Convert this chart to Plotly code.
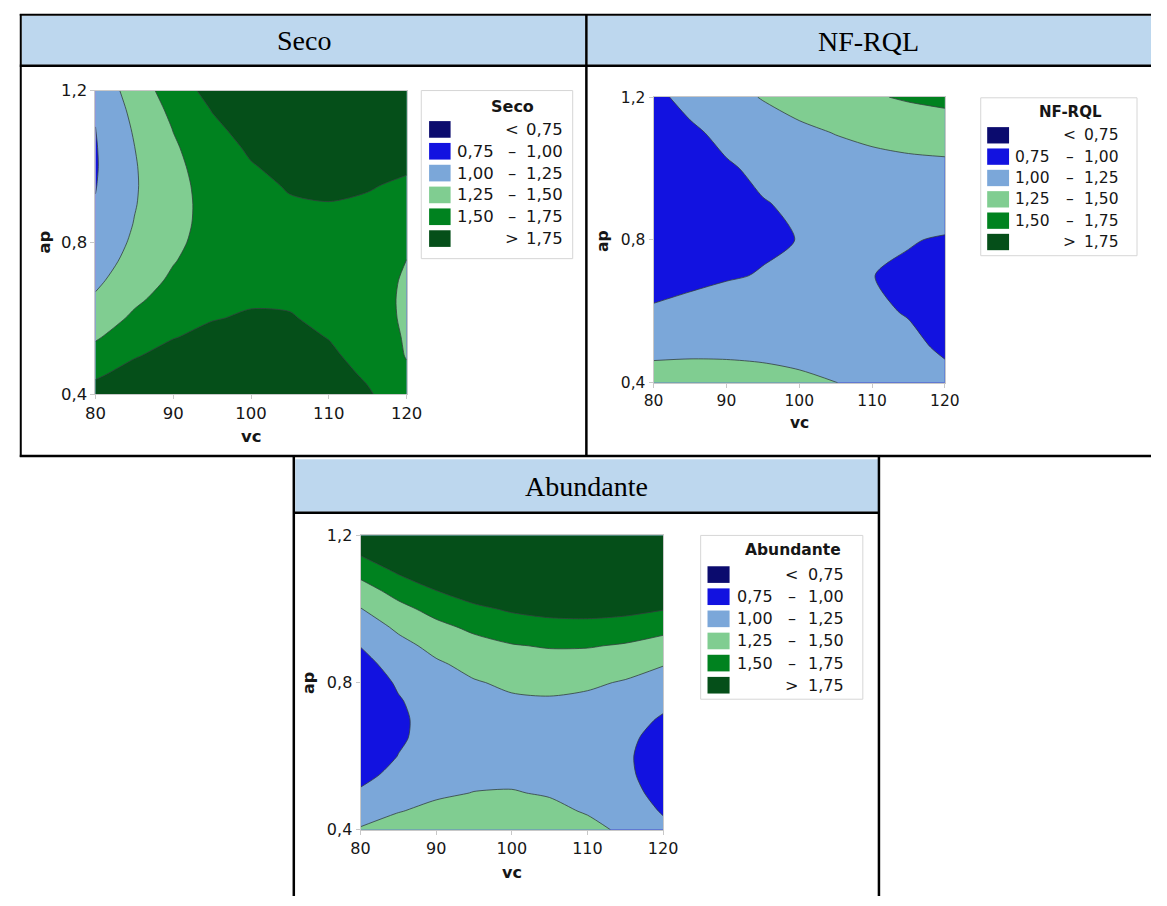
import plotly.graph_objects as go

FIG_W, FIG_H = 1167, 906

# Grids of the response surfaces: cutting speed (vc) x depth of cut (ap)
VC = [80, 85, 90, 95, 100, 105, 110, 115, 120]
AP = [0.4, 0.5, 0.6, 0.7, 0.8, 0.9, 1.0, 1.1, 1.2]
AP_FINE = [0.4, 0.45, 0.5, 0.55, 0.6, 0.65, 0.7, 0.75, 0.8,
           0.85, 0.9, 0.95, 1.0, 1.05, 1.1, 1.15, 1.2]

X_TICKS = [80, 90, 100, 110, 120]
Y_TICKS = [0.4, 0.8, 1.2]
Y_TICK_TEXT = ["0,4", "0,8", "1,2"]

# rows follow the ap list (bottom -> top), columns follow VC (80 -> 120)
Z_SECO = [
    [1.856, 1.977, 2.054, 2.087, 2.076, 2.021, 1.921, 1.777, 1.589],
    [1.717, 1.850, 1.938, 1.982, 1.982, 1.938, 1.850, 1.717, 1.540],
    [1.590, 1.734, 1.834, 1.889, 1.901, 1.868, 1.790, 1.669, 1.490],
    [1.475, 1.630, 1.741, 1.808, 1.831, 1.809, 1.743, 1.633, 1.478],
    [1.372, 1.539, 1.661, 1.739, 1.773, 1.762, 1.707, 1.608, 1.465],
    [1.281, 1.459, 1.592, 1.681, 1.726, 1.727, 1.684, 1.596, 1.464],
    [1.202, 1.391, 1.535, 1.636, 1.692, 1.704, 1.672, 1.595, 1.475],
    [1.134, 1.334, 1.490, 1.602, 1.670, 1.693, 1.672, 1.607, 1.497],
    [1.079, 1.290, 1.457, 1.580, 1.659, 1.694, 1.684, 1.630, 1.532],
    [1.035, 1.258, 1.436, 1.570, 1.660, 1.706, 1.708, 1.665, 1.578],
    [1.010, 1.237, 1.427, 1.572, 1.674, 1.731, 1.743, 1.712, 1.636],
    [0.992, 1.228, 1.429, 1.586, 1.699, 1.767, 1.791, 1.771, 1.706],
    [0.982, 1.232, 1.444, 1.612, 1.736, 1.815, 1.850, 1.841, 1.788],
    [0.986, 1.247, 1.470, 1.649, 1.784, 1.875, 1.922, 1.924, 1.882],
    [0.998, 1.274, 1.508, 1.699, 1.845, 1.947, 2.005, 2.018, 1.988],
    [1.022, 1.312, 1.558, 1.760, 1.918, 2.031, 2.100, 2.125, 2.105],
    [1.062, 1.363, 1.620, 1.833, 2.002, 2.127, 2.207, 2.243, 2.235],
]

Z_NF_RQL = [
    [1.369, 1.368, 1.356, 1.333, 1.298, 1.253, 1.196, 1.128, 1.050],
    [1.177, 1.191, 1.193, 1.185, 1.165, 1.134, 1.092, 1.039, 0.974],
    [1.025, 1.053, 1.070, 1.076, 1.071, 1.055, 1.027, 0.989, 0.939],
    [0.913, 0.956, 0.987, 1.008, 1.017, 1.015, 1.002, 0.978, 0.943],
    [0.840, 0.898, 0.944, 0.979, 1.003, 1.016, 1.018, 1.008, 0.988],
    [0.808, 0.880, 0.941, 0.990, 1.029, 1.056, 1.073, 1.078, 1.072],
    [0.815, 0.902, 0.977, 1.041, 1.095, 1.137, 1.168, 1.187, 1.196],
    [0.862, 0.963, 1.053, 1.132, 1.200, 1.257, 1.302, 1.337, 1.360],
    [0.949, 1.065, 1.170, 1.263, 1.346, 1.417, 1.477, 1.526, 1.564],
]

Z_ABUNDANTE = [
    [1.272, 1.367, 1.428, 1.454, 1.444, 1.399, 1.320, 1.205, 1.055],
    [1.137, 1.241, 1.309, 1.342, 1.341, 1.304, 1.232, 1.125, 0.983],
    [1.027, 1.138, 1.214, 1.255, 1.261, 1.232, 1.168, 1.068, 0.934],
    [0.940, 1.059, 1.143, 1.192, 1.205, 1.184, 1.127, 1.036, 0.909],
    [0.878, 1.004, 1.096, 1.152, 1.174, 1.160, 1.111, 1.027, 0.908],
    [0.839, 0.974, 1.073, 1.137, 1.166, 1.160, 1.119, 1.042, 0.931],
    [0.825, 0.967, 1.074, 1.145, 1.182, 1.184, 1.150, 1.082, 0.978],
    [0.834, 0.984, 1.098, 1.178, 1.222, 1.231, 1.206, 1.145, 1.049],
    [0.867, 1.025, 1.147, 1.234, 1.286, 1.303, 1.285, 1.232, 1.144],
    [0.925, 1.090, 1.219, 1.314, 1.374, 1.399, 1.388, 1.343, 1.263],
    [1.006, 1.178, 1.316, 1.418, 1.486, 1.518, 1.516, 1.478, 1.405],
    [1.111, 1.291, 1.436, 1.547, 1.622, 1.662, 1.667, 1.637, 1.572],
    [1.240, 1.428, 1.581, 1.699, 1.782, 1.829, 1.842, 1.820, 1.762],
    [1.393, 1.588, 1.749, 1.875, 1.965, 2.021, 2.041, 2.027, 1.977],
    [1.570, 1.773, 1.941, 2.075, 2.173, 2.236, 2.264, 2.257, 2.215],
    [1.770, 1.982, 2.158, 2.299, 2.405, 2.475, 2.511, 2.512, 2.478],
    [1.995, 2.214, 2.398, 2.546, 2.660, 2.739, 2.782, 2.791, 2.764],
]

LEVEL_START, LEVEL_END, LEVEL_STEP = 0.75, 1.75, 0.25
BAND_COLORS = ["#0b0b6e", "#1212e0", "#7ba7d9", "#80cd91", "#00821f", "#054f19"]
BAND_LABELS = [
    ("", "<", "0,75"),
    ("0,75", "–", "1,00"),
    ("1,00", "–", "1,25"),
    ("1,25", "–", "1,50"),
    ("1,50", "–", "1,75"),
    ("", ">", "1,75"),
]

HEADER_FILL = "#bdd7ee"
TEXT = "#161616"
SANS = "DejaVu Sans"
SERIF = "Liberation Serif"
BASE_SIZE = 16.5


def px(x):
    return x / FIG_W


def py(y):
    return 1 - y / FIG_H


# stepped colour scale: one flat step per contour band
n_bands = len(BAND_COLORS)
STEP_SCALE = []
for i, c in enumerate(BAND_COLORS):
    lo = max(0.0, (i - 0.5) / (n_bands - 1))
    hi = min(1.0, (i + 0.5) / (n_bands - 1))
    STEP_SCALE += [[lo, c], [hi, c]]

PANELS = [
    dict(
        title="Seco", y=AP_FINE, z=Z_SECO, plot=(86.5, 83.3, 405.0, 393.3), s=1.0,
        header=(299.5, 32),
        legend=dict(box=(420, 83.3, 575, 255), title_dx=93, title_dy=16, row0=39.7, pitch=22.3,
                    sw=(8, 30, 17), col1=76, mid=93, col3=147),
        xlabel=(245.8, 437), ylabel=(34, 238.3),
    ),
    dict(
        title="NF-RQL", y=AP, z=Z_NF_RQL, plot=(657.8, 90.0, 956.0, 381.7), s=0.94,
        header=(878, 33),
        legend=dict(box=(992.7, 90.7, 1152.7, 252), title_dx=92.3, title_dy=14, row0=38.3, pitch=21.8,
                    sw=(6.6, 29, 16.7), col1=73.3, mid=91.3, col3=144),
        xlabel=(807, 423), ylabel=(606, 237),
    ),
    dict(
        title="Abundante", y=AP_FINE, z=Z_ABUNDANTE, plot=(357.8, 537.7, 667.5, 838.3), s=0.97,
        header=(589, 487.5),
        legend=dict(box=(706, 537.7, 872, 705), title_dx=94.6, title_dy=14.5, row0=40, pitch=22.6,
                    sw=(7, 29.6, 17), col1=76, mid=93, col3=149),
        xlabel=(512.6, 882), ylabel=(304.5, 688),
    ),
]

fig = go.Figure()
shapes = []
annotations = []
layout_axes = {}

for k, p in enumerate(PANELS, start=1):
    sfx = "" if k == 1 else str(k)
    l, t, r, b = p["plot"]
    s = p["s"]
    fs = BASE_SIZE * s

    fig.add_trace(go.Contour(
        x=VC, y=p["y"], z=p["z"],
        xaxis="x" + sfx, yaxis="y" + sfx,
        autocontour=False,
        contours=dict(start=LEVEL_START, end=LEVEL_END, size=LEVEL_STEP,
                      coloring="fill", showlines=True),
        line=dict(color="#33403f", width=0.8, smoothing=0.8),
        colorscale=STEP_SCALE, showscale=False, hoverinfo="skip",
    ))

    axis_common = dict(
        showgrid=False, zeroline=False, showline=True, linecolor="#c8c8c8",
        linewidth=1, mirror=True, ticks="outside", ticklen=4, tickcolor="#c8c8c8",
        tickfont=dict(family=SANS, size=fs, color=TEXT),
    )
    layout_axes["xaxis" + sfx] = dict(
        axis_common, domain=[px(l), px(r)], range=[80, 120],
        tickvals=X_TICKS, anchor="y" + sfx,
    )
    layout_axes["yaxis" + sfx] = dict(
        axis_common, domain=[py(b), py(t)], range=[0.4, 1.2],
        tickvals=Y_TICKS, ticktext=Y_TICK_TEXT, anchor="x" + sfx,
    )

    # axis titles
    annotations.append(dict(
        text="<b>vc</b>", x=px(p["xlabel"][0]), y=py(p["xlabel"][1]), xref="paper", yref="paper",
        showarrow=False, xanchor="center", yanchor="middle",
        font=dict(family=SANS, size=fs, color=TEXT),
    ))
    annotations.append(dict(
        text="<b>ap</b>", x=px(p["ylabel"][0]), y=py(p["ylabel"][1]), xref="paper", yref="paper",
        showarrow=False, xanchor="center", yanchor="middle", textangle=-90,
        font=dict(family=SANS, size=fs, color=TEXT),
    ))

    # header title of the table cell
    annotations.append(dict(
        text=p["title"], x=px(p["header"][0]), y=py(p["header"][1]), xref="paper", yref="paper",
        showarrow=False, xanchor="center", yanchor="middle",
        font=dict(family=SERIF, size=28, color="black"),
    ))

    # contour legend box
    lg = p["legend"]
    L, T, R, B = lg["box"]
    shapes.append(dict(type="rect", xref="paper", yref="paper",
                       x0=px(L), x1=px(R), y0=py(B), y1=py(T),
                       line=dict(color="#d6d6d6", width=1), fillcolor="white"))
    annotations.append(dict(
        text="<b>" + p["title"] + "</b>", x=px(L + lg["title_dx"]), y=py(T + lg["title_dy"]),
        xref="paper", yref="paper", showarrow=False, xanchor="center", yanchor="middle",
        font=dict(family=SANS, size=fs * 0.97, color=TEXT),
    ))
    sw0, sw1, swh = lg["sw"]
    for i, (c, (lo_txt, sep, hi_txt)) in enumerate(zip(BAND_COLORS, BAND_LABELS)):
        yc = T + lg["row0"] + i * lg["pitch"]
        shapes.append(dict(type="rect", xref="paper", yref="paper",
                           x0=px(L + sw0), x1=px(L + sw1),
                           y0=py(yc + swh / 2), y1=py(yc - swh / 2),
                           line=dict(width=0), fillcolor=c))
        f = dict(family=SANS, size=fs, color=TEXT)
        if lo_txt:
            annotations.append(dict(text=lo_txt, x=px(L + lg["col1"]), y=py(yc),
                                    xref="paper", yref="paper", showarrow=False,
                                    xanchor="right", yanchor="middle", font=f))
        annotations.append(dict(text=sep, x=px(L + lg["mid"]), y=py(yc),
                                xref="paper", yref="paper", showarrow=False,
                                xanchor="center", yanchor="middle", font=f))
        annotations.append(dict(text=hi_txt, x=px(L + lg["col3"]), y=py(yc),
                                xref="paper", yref="paper", showarrow=False,
                                xanchor="right", yanchor="middle", font=f))

# table: header fills and ruled borders
for x0, y0, x1, y1 in [(11, 6.8, 588, 57), (590, 6.8, 1167, 57), (291, 459.8, 887.5, 513.5)]:
    shapes.append(dict(type="rect", xref="paper", yref="paper", layer="below",
                       x0=px(x0), x1=px(x1), y0=py(y1), y1=py(y0),
                       line=dict(width=0), fillcolor=HEADER_FILL))

table_lines = [
    (9, 5.8, 1167, 5.8, 2),
    (9, 58, 1167, 58, 2.5),
    (9, 456.6, 1167, 456.6, 2.6),
    (10, 5, 10, 457.5, 2),
    (589, 5, 589, 457.5, 2.5),
    (289.5, 457, 289.5, 906, 2.5),
    (888.5, 457, 888.5, 906, 2.5),
    (289, 514.5, 889, 514.5, 2.5),
]
for x0, y0, x1, y1, w in table_lines:
    shapes.append(dict(type="line", xref="paper", yref="paper",
                       x0=px(x0), x1=px(x1), y0=py(y0), y1=py(y1),
                       line=dict(color="black", width=w)))

fig.update_layout(
    width=FIG_W, height=FIG_H,
    margin=dict(l=0, r=0, t=0, b=0),
    paper_bgcolor="white", plot_bgcolor="white",
    showlegend=False,
    shapes=shapes, annotations=annotations,
    **layout_axes,
)

# the page body gets no margin so the figure sits flush in the window
fig.write_html(
    "out.html",
    post_script="document.body.style.margin='0';document.body.style.overflow='hidden';",
)
